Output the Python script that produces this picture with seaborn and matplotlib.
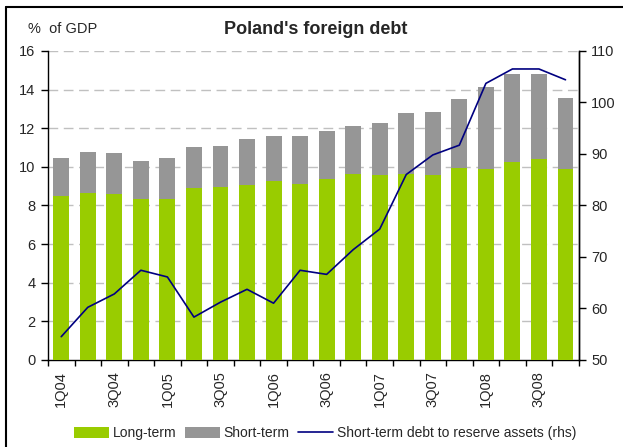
import numpy as np
import pandas as pd
import matplotlib
matplotlib.use("Agg")
import matplotlib.pyplot as plt
import seaborn as sns
from matplotlib import font_manager
from matplotlib.patches import Patch
from matplotlib.lines import Line2D

# Dados
quarters = ["1Q04", "2Q04", "3Q04", "4Q04", "1Q05", "2Q05", "3Q05", "4Q05",
            "1Q06", "2Q06", "3Q06", "4Q06", "1Q07", "2Q07", "3Q07", "4Q07",
            "1Q08", "2Q08", "3Q08", "4Q08"]
long_term = [8.5, 8.65, 8.6, 8.35, 8.35, 8.9, 8.95, 9.05, 9.25, 9.1,
             9.35, 9.65, 9.55, 9.65, 9.55, 9.95, 9.9, 10.25, 10.4, 9.9]
total_debt = [10.45, 10.75, 10.7, 10.3, 10.45, 11.0, 11.1, 11.45, 11.6, 11.6,
              11.85, 12.1, 12.25, 12.8, 12.85, 13.5, 14.15, 14.8, 14.8, 13.55]
short_to_reserves = [54.5, 60.2, 62.8, 67.4, 66.1, 58.3, 61.2, 63.7, 61.0, 67.4,
                     66.6, 71.4, 75.4, 86.0, 89.8, 91.7, 103.7, 106.5, 106.5, 104.4]

df = pd.DataFrame({"Trimestre": quarters, "Longo": long_term,
                   "Total": total_debt, "Reservas": short_to_reserves})
df["pos"] = np.arange(len(df))

# Fonte estreita se existir
nomes = {f.name for f in font_manager.fontManager.ttflist}
if "Liberation Sans Narrow" in nomes:
    fonte, tam, tam_leg = "Liberation Sans Narrow", 12, 12
else:
    fonte, tam, tam_leg = "Liberation Sans", 10.5, 10

sns.set_style("white")
plt.rcParams["font.family"] = [fonte, "DejaVu Sans"]

verde = "#99CC00"
cinza = "#969696"
azul = "#000080"

fig = plt.figure(figsize=(6.23, 4.47), dpi=100)
ax = fig.add_axes([0.077, 0.195, 0.852, 0.691])

sns.barplot(data=df, x="Trimestre", y="Total", color=cinza, width=0.6,
            saturation=1, linewidth=0, ax=ax, zorder=2)
sns.barplot(data=df, x="Trimestre", y="Longo", color=verde, width=0.6,
            saturation=1, linewidth=0, ax=ax, zorder=3)

ax.set_ylim(0, 16)
ax.set_yticks(np.arange(0, 17, 2))
ax.set_xlim(-0.5, len(df) - 0.5)
for v in np.arange(2, 17, 2):
    ax.axhline(v, color="#c0c0c0", lw=1, ls=(0, (7, 4)), zorder=1)

# eixo x: marcas entre barras, rótulos a cada dois trimestres
ax.set_xticks(np.arange(-0.5, len(df), 1))
ax.set_xticklabels([])
ax.set_xticks(df["pos"][::2], minor=True)
ax.set_xticklabels(df["Trimestre"][::2], minor=True, rotation=90, fontsize=tam)
ax.tick_params(axis="x", which="major", direction="out", length=4, width=1,
               color="black", bottom=True)
ax.tick_params(axis="x", which="minor", length=0, pad=8)
ax.tick_params(axis="y", direction="out", length=5, width=1, color="black",
               labelsize=tam, pad=4, left=True)
ax.set_xlabel("")
ax.set_ylabel("")

for s in ["left", "bottom", "right"]:
    ax.spines[s].set_color("black")
    ax.spines[s].set_linewidth(1)
ax.spines["top"].set_visible(False)

ax2 = ax.twinx()
sns.lineplot(data=df, x="pos", y="Reservas", color=azul, lw=1.2, ax=ax2, zorder=4)
ax2.set_ylim(50, 110)
ax2.set_yticks(np.arange(50, 111, 10))
ax2.set_xlim(-0.5, len(df) - 0.5)
ax2.set_ylabel("")
ax2.set_xlabel("")
ax2.tick_params(axis="y", direction="out", length=5, width=1, color="black",
                labelsize=tam, pad=4, right=True)
for s in ["left", "top", "bottom"]:
    ax2.spines[s].set_visible(False)
ax2.spines["right"].set_color("black")
ax2.spines["right"].set_linewidth(1)

# títulos
fig.text(0.507, 0.933, "Poland's foreign debt", ha="center", va="center",
         fontsize=13, fontweight="bold", family=["Liberation Sans", "DejaVu Sans"])
fig.text(0.045, 0.935, "%  of GDP", ha="left", va="center", fontsize=tam)

# legenda
itens = [Patch(facecolor=verde, edgecolor="none"),
         Patch(facecolor=cinza, edgecolor="none"),
         Line2D([0], [0], color=azul, lw=1.2)]
fig.legend(itens, ["Long-term", "Short-term", "Short-term debt to reserve assets (rhs)"],
           loc="center", bbox_to_anchor=(0.522, 0.031), ncol=3, frameon=False,
           fontsize=tam_leg, handlelength=2.5, handleheight=0.9, handletextpad=0.3,
           columnspacing=0.6, borderaxespad=0)

# moldura (só topo e esquerda visíveis)
fig.add_artist(Line2D([0.0096, 0.0096], [0, 0.984], color="black", lw=1.5,
                      transform=fig.transFigure))
fig.add_artist(Line2D([0.0096, 1], [0.984, 0.984], color="black", lw=1.5,
                      transform=fig.transFigure))

fig.savefig("out.png", dpi=100)
